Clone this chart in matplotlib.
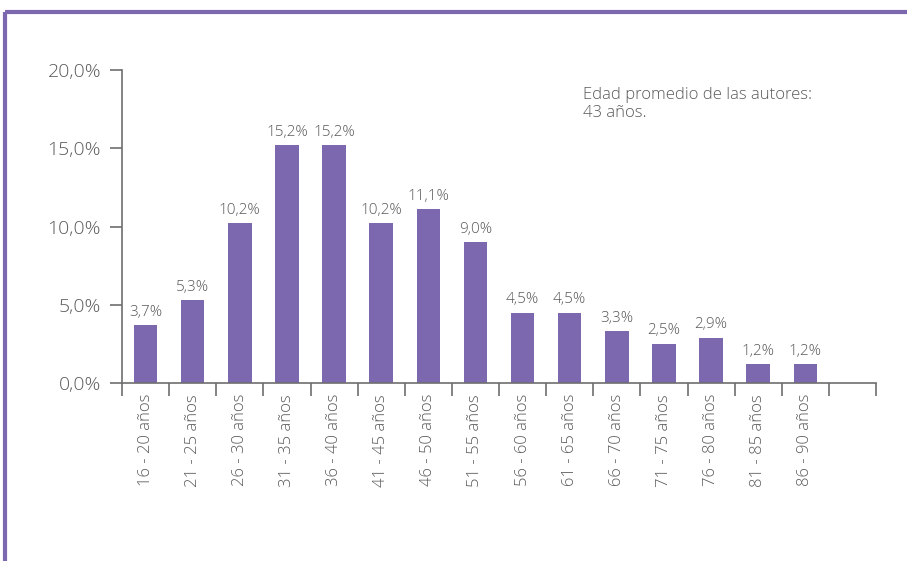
import matplotlib.pyplot as plt
from matplotlib.lines import Line2D
import numpy as np

# Data
grupos = ['16 - 20 años', '21 - 25 años', '26 - 30 años', '31 - 35 años', '36 - 40 años',
          '41 - 45 años', '46 - 50 años', '51 - 55 años', '56 - 60 años', '61 - 65 años',
          '66 - 70 años', '71 - 75 años', '76 - 80 años', '81 - 85 años', '86 - 90 años']
porcentajes = [3.7, 5.3, 10.2, 15.2, 15.2, 10.2, 11.1, 9.0, 4.5, 4.5, 3.3, 2.5, 2.9, 1.2, 1.2]
y_ticks = [0, 5, 10, 15, 20]

purple = '#7b68ae'
grey_text = '#5a5a5a'
axis_col = '#6e6e6e'

plt.rcParams['font.family'] = ['Open Sans', 'DejaVu Sans']

fig = plt.figure(figsize=(9.07, 5.61), dpi=100)
ax = fig.add_axes([122 / 907, 1 - 383 / 561, 754 / 907, 313 / 561])

x = np.arange(len(grupos)) + 0.5
ax.bar(x, porcentajes, width=0.5, color=purple)

# value labels
for xi, v in zip(x, porcentajes):
    ax.text(xi, v + 0.35, f'{v:.1f}%'.replace('.', ','), ha='center', va='bottom',
            fontsize=11, color=grey_text, fontweight='light')

ax.set_xlim(0, len(grupos) + 1)
ax.set_ylim(0, 20)

# y axis
ax.set_yticks(y_ticks)
ax.set_yticklabels([f'{t:.1f}%'.replace('.', ',') for t in y_ticks], fontsize=14,
                   color=grey_text, fontweight='light')
ax.tick_params(axis='y', direction='out', length=9, width=1.2, color=axis_col, pad=6)

# x axis: ticks at category boundaries, labels in the middle
ax.set_xticks(np.arange(len(grupos) + 2))
ax.set_xticklabels([])
ax.set_xticks(x, minor=True)
ax.set_xticklabels(grupos, minor=True, rotation=90, fontsize=12, color=grey_text,
                   fontweight='light', va='top')
ax.tick_params(axis='x', which='major', direction='out', length=9, width=1.2, color=axis_col)
ax.tick_params(axis='x', which='minor', length=0, pad=8)

for s in ['top', 'right']:
    ax.spines[s].set_visible(False)
for s in ['left', 'bottom']:
    ax.spines[s].set_color(axis_col)
    ax.spines[s].set_linewidth(1.2)

ax.text(583 / 907, 1 - 104 / 561, 'Edad promedio de las autores:\n43 años.',
        transform=fig.transFigure, fontsize=12, color=grey_text, fontweight='light',
        va='center', ha='left', linespacing=1.2)

# purple frame
fig.add_artist(Line2D([5 / 907, 1], [1 - 12 / 561, 1 - 12 / 561], color=purple, lw=3,
                      transform=fig.transFigure, solid_capstyle='butt'))
fig.add_artist(Line2D([5 / 907, 5 / 907], [0, 1 - 12 / 561], color=purple, lw=3,
                      transform=fig.transFigure, solid_capstyle='butt'))

fig.savefig('out.png', dpi=100)
